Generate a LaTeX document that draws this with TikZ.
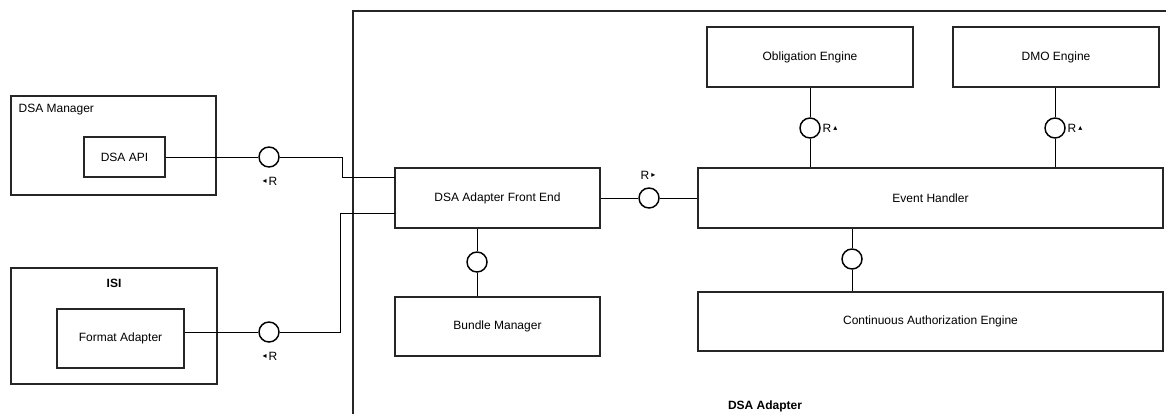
\documentclass[tikz,border=0pt]{standalone}
\usepackage{fontspec}
\setmainfont{Liberation Sans}
\newfontfamily\symfont{DejaVu Sans}
\usetikzlibrary{positioning,calc}
\tikzset{
  comp/.style={
    draw=black!85,
    line width=1.3pt,
    fill=white,
    align=center,
    inner sep=2pt,
    font=\fontsize{9pt}{11pt}\selectfont
  },
  holder/.style={draw=black!85, line width=1.3pt},
  lolli/.style={circle, draw=black, line width=1.1pt, fill=white, minimum size=15pt, inner sep=0pt},
  link/.style={draw=black, line width=0.75pt},
  rlabel/.style={inner sep=1pt, font=\fontsize{9pt}{11pt}\selectfont},
  title/.style={inner sep=1pt, font=\fontsize{9pt}{11pt}\selectfont}
}
\newcommand{\tipl}{\raisebox{1.1pt}{\symfont\fontsize{6pt}{6pt}\selectfont ◂}\,}
\newcommand{\tipr}{\,\raisebox{1.1pt}{\symfont\fontsize{6pt}{6pt}\selectfont ▸}}
\newcommand{\tipu}{\,\raisebox{1.1pt}{\symfont\fontsize{6pt}{6pt}\selectfont ▴}}

\begin{document}
\begin{tikzpicture}[x=0.75pt, y=-0.75pt]
  \useasboundingbox (0,0) rectangle (1166,414);
  % DSA Adapter (open to the right and below)
  \draw[holder] (353,414) -- (353,11) -- (1166,11);
  \node[title, font=\fontsize{9pt}{11pt}\bfseries] (adp) at (765,406) {DSA Adapter};

  % left side components
  \draw[holder] (11,96) rectangle (216,195);
  \node[title, anchor=west] (mgrt) at (17,110) {DSA Manager};
  \node[comp, minimum width=61pt, minimum height=30pt] (api) at (124.5,157) {DSA API};

  \draw[holder] (11,268) rectangle (217,384);
  \node[title, font=\fontsize{9pt}{11pt}\bfseries] (isit) at (114,283) {ISI};
  \node[comp, minimum width=95pt, minimum height=44pt] (fmt) at (120.5,338.5) {Format Adapter};

  % inner components
  \node[comp, minimum width=154pt, minimum height=45pt] (fe)  at (497.5,198) {DSA Adapter Front End};
  \node[comp, minimum width=349pt, minimum height=45pt] (evh) at (930.5,198) {Event Handler};
  \node[comp, minimum width=154pt, minimum height=45pt] (obl) at (810,57) {Obligation Engine};
  \node[comp, minimum width=154pt, minimum height=45pt] (dmo) at (1056,57) {DMO Engine};
  \node[comp, minimum width=154pt, minimum height=44pt] (bdl) at (497.5,326.5) {Bundle Manager};
  \node[comp, minimum width=349pt, minimum height=44pt] (cae) at (930.5,321.5) {Continuous Authorization Engine};

  % interfaces
  \node[lolli] (i1) at (269,157) {};
  \node[lolli] (i2) at (269,332) {};
  \node[lolli] (i3) at (649,198) {};
  \node[lolli] (i4) at (810,128) {};
  \node[lolli] (i5) at (1055,128) {};
  \node[lolli] (i6) at (477,262) {};
  \node[lolli] (i7) at (852,259) {};

  \node[rlabel] (r1) at (270,181) {\tipl R};
  \node[rlabel] (r2) at (270,356) {\tipl R};
  \node[rlabel] (r3) at (648,175) {R\tipr};
  \node[rlabel, anchor=west] (r4) at (821,128) {R\tipu};
  \node[rlabel, anchor=west] (r5) at (1066,128) {R\tipu};

  % connectors
  \coordinate (k1) at (342,157);
  \coordinate (k2) at (340,332);
  \coordinate (fe1) at (395,177);
  \coordinate (fe2) at (395,213);
  \draw[link] (api.east) -- (i1);
  \draw[link] (i1) -- (k1) |- (fe1);
  \draw[link] (fmt.east |- i2) -- (i2);
  \draw[link] (i2) -- (k2) |- (fe2);
  \draw[link] (fe) -- (i3);
  \draw[link] (i3) -- (evh);
  \draw[link] (obl) -- (i4);
  \draw[link] (i4) -- (evh.north -| i4);
  \draw[link] (dmo.south -| i5) -- (i5);
  \draw[link] (i5) -- (evh.north -| i5);
  \draw[link] (fe.south -| i6) -- (i6);
  \draw[link] (i6) -- (bdl.north -| i6);
  \draw[link] (evh.south -| i7) -- (i7);
  \draw[link] (i7) -- (cae.north -| i7);
\end{tikzpicture}
\end{document}
